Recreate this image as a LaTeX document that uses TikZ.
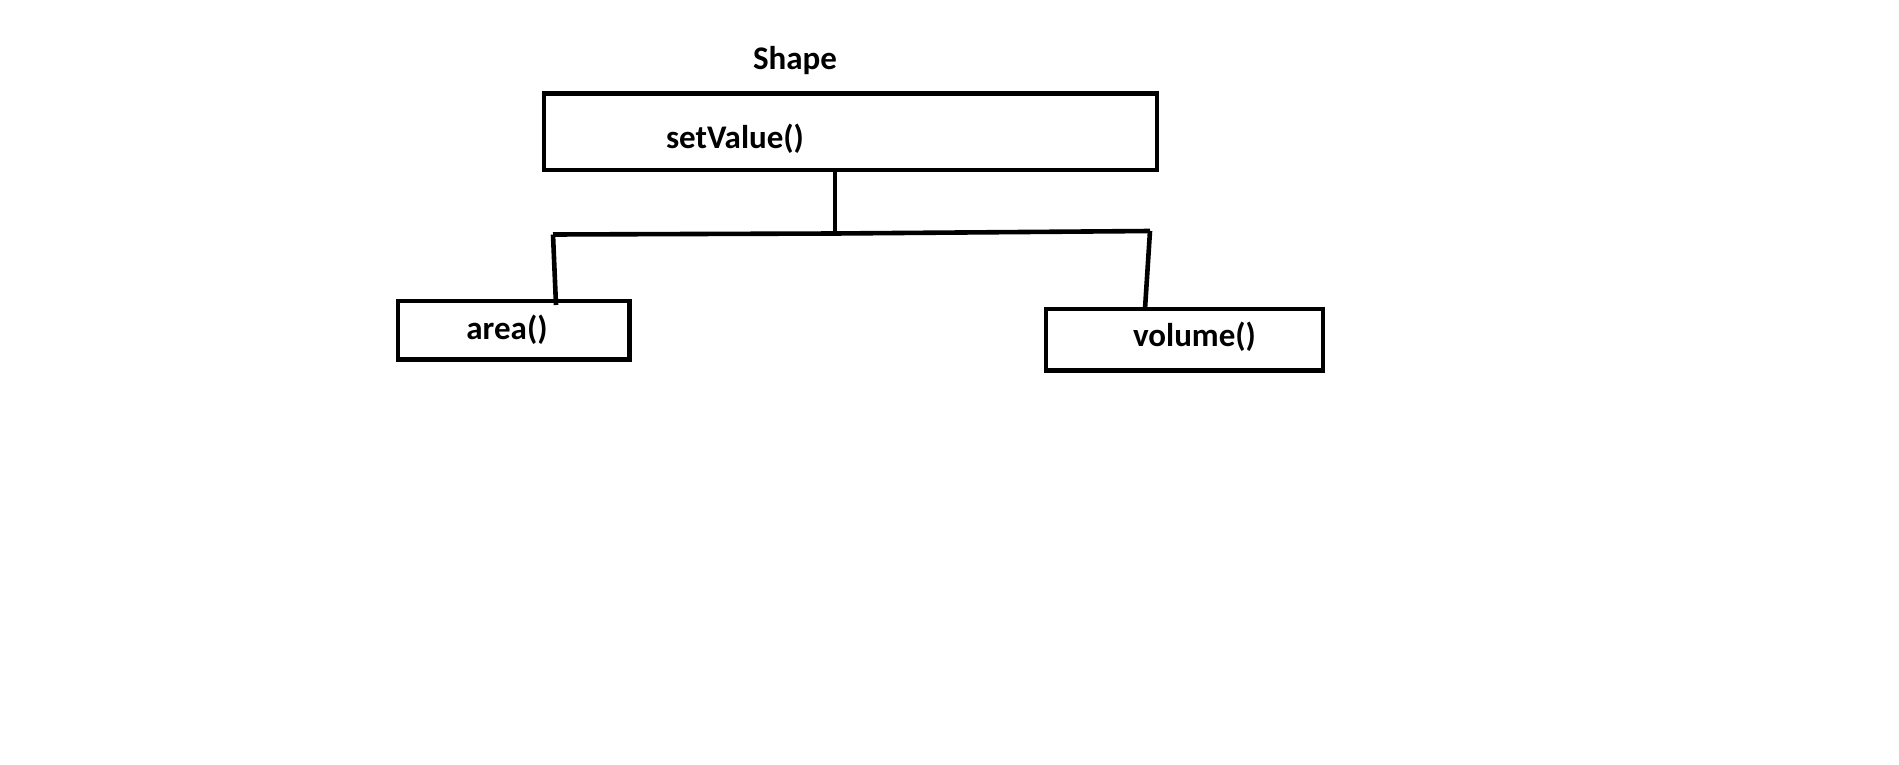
\documentclass[tikz,border=0pt]{standalone}
\usepackage{fontspec}
\setmainfont{Carlito}
\begin{document}
\begin{tikzpicture}[x=1pt,y=-1pt,
  box/.style={draw=black,line width=4.6pt,rectangle,inner sep=0pt,miter limit=10},
  lbl/.style={inner sep=0pt,anchor=base,font=\fontsize{33}{39}\selectfont\bfseries},
  wire/.style={draw=black,line width=4.6pt}]
\useasboundingbox[fill=white] (0,0) rectangle (1899,765);
% boxes
\node[box,minimum width=613pt,minimum height=76.5pt] (top) at (850.5,131.75) {};
\node[box,minimum width=231.5pt,minimum height=58.5pt] (area) at (513.75,330.25) {};
\node[box,minimum width=277pt,minimum height=61.5pt] (vol) at (1184.5,339.75) {};
% texts
\node[lbl] (shape) at (795,70) {Shape};
\node[lbl] (setv) at (735,149) {setValue()};
\node[lbl] (areat) at (507,339.5) {area()};
\node[lbl] (volt) at (1194.5,346) {volume()};
% connector points
\coordinate (j) at (835,233.5);
\coordinate (l) at (553,234.5);
\coordinate (r) at (1150,231);
\coordinate (la) at (556,305);
\coordinate (ra) at (1145,309);
\draw[wire] (top.south -| j) -- (j);
\draw[wire] (l) -- (j) -- (r);
\draw[wire] (l) -- (la);
\draw[wire] (r) -- (ra);
\end{tikzpicture}
\end{document}
